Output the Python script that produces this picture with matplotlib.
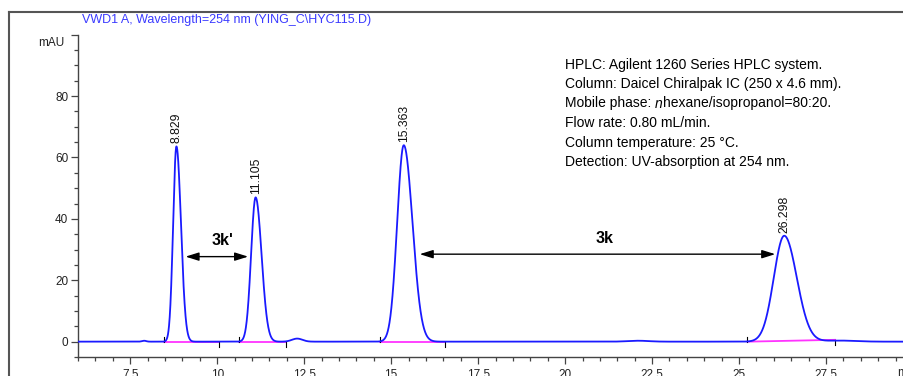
import numpy as np
import matplotlib
matplotlib.use("Agg")
import matplotlib.pyplot as plt
from matplotlib.lines import Line2D

plt.rcParams['font.family'] = ['Liberation Sans', 'DejaVu Sans']

# Main peaks: retention time (min), height (mAU), left/right widths (min)
peak_times = [8.829, 11.105, 15.363, 26.298]
peak_heights = [63.6, 47.0, 64.0, 34.5]
peak_sigma_left = [0.095, 0.13, 0.19, 0.30]
peak_sigma_right = [0.13, 0.17, 0.25, 0.36]

# Minor features of the trace
minor_times = [7.9, 12.3, 22.1, 27.9]
minor_heights = [0.3, 1.0, 0.3, 0.35]
minor_widths = [0.06, 0.15, 0.3, 0.45]

# Integration baselines: start, end, start level, end level
base_start = [8.47, 10.63, 14.67, 25.24]
base_end = [10.04, 11.99, 16.55, 27.76]
base_y0 = [0.0, 0.0, 0.0, 0.0]
base_y1 = [0.0, 0.0, 0.0, 0.6]

# Resolution arrows and their labels
arrow_labels = ["3k'", "3k"]
arrow_left = [9.09, 15.82]
arrow_right = [10.89, 26.04]
arrow_level = [27.7, 28.5]
label_x = [10.14, 21.14]
label_y = [30.5, 31.0]

title_text = "VWD1 A, Wavelength=254 nm (YING_C\\HYC115.D)"
# each line is a list of (text, italic) pieces
info_lines = [
    [("HPLC: Agilent 1260 Series HPLC system.", False)],
    [("Column: Daicel Chiralpak IC (250 x 4.6 mm).", False)],
    [("Mobile phase: ", False), ("n", True), ("hexane/isopropanol=80:20.", False)],
    [("Flow rate: 0.80 mL/min.", False)],
    [("Column temperature: 25 \u00b0C.", False)],
    [("Detection: UV-absorption at 254 nm.", False)],
]

W, H = 904, 376
fig = plt.figure(figsize=(W / 100, H / 100), dpi=100)

x0, x1 = 6.0, 29.74
ax_left, ax_bottom, ax_top = 78, 357, 34.7
ax = fig.add_axes([ax_left / W, (H - ax_bottom) / H,
                   (W - ax_left) / W, (ax_bottom - ax_top) / H])

t = np.linspace(x0, x1, 6000)
signal = np.zeros_like(t)
for tr, h, sl, sr in zip(peak_times, peak_heights, peak_sigma_left, peak_sigma_right):
    s = np.where(t < tr, sl, sr)
    signal += h * np.exp(-0.5 * ((t - tr) / s) ** 2)
for tr, h, w in zip(minor_times, minor_heights, minor_widths):
    signal += h * np.exp(-0.5 * ((t - tr) / w) ** 2)

for a, b, ya, yb in zip(base_start, base_end, base_y0, base_y1):
    ax.plot([a, b], [ya, yb], color='#ff33ff', lw=1.3, zorder=2)
    ax.plot([a, a], [ya, ya + 1.6], color='black', lw=0.8, zorder=3)
    ax.plot([b, b], [yb, yb - 1.6], color='black', lw=0.8, zorder=3)

ax.plot(t, signal, color='#1a1aff', lw=1.3, zorder=4)

for tr, h in zip(peak_times, peak_heights):
    ax.text(tr, h + 1.0, f"{tr:.3f}", rotation=90, ha='center', va='bottom',
            fontsize=8.7, color='#111111')

for a, b, y in zip(arrow_left, arrow_right, arrow_level):
    ax.annotate('', xy=(b, y), xytext=(a, y),
                arrowprops=dict(arrowstyle='<|-|>,head_length=0.8,head_width=0.25',
                                color='black', lw=1.0, shrinkA=0, shrinkB=0))
for lab, lx, ly in zip(arrow_labels, label_x, label_y):
    ax.text(lx, ly, lab, ha='center', va='bottom', fontsize=11.5, fontweight='bold')

ax.set_xlim(x0, x1)
ax.set_ylim(-5, 100)
ax.set_xticks(np.arange(7.5, 29, 2.5))
ax.set_xticklabels([f"{v:g}" for v in np.arange(7.5, 29, 2.5)])
ax.set_xticks(np.arange(6.0, 29.8, 0.5), minor=True)
ax.set_yticks([0, 20, 40, 60, 80, 100])
ax.set_yticklabels(['0', '20', '40', '60', '80', ''])
ax.set_yticks(np.arange(-5, 101, 5), minor=True)

axis_color = '#444444'
for side in ['top', 'right']:
    ax.spines[side].set_visible(False)
for side in ['left', 'bottom']:
    ax.spines[side].set_color(axis_color)
    ax.spines[side].set_linewidth(1.0)
ax.tick_params(which='major', direction='out', length=5, width=0.9,
               color=axis_color, labelsize=8.5, labelcolor='#222222')
ax.tick_params(which='minor', direction='out', length=2.6, width=0.9, color=axis_color)
ax.tick_params(axis='x', which='major', pad=3.5)
ax.tick_params(axis='y', which='major', pad=2)
ax.patch.set_alpha(0)

fig.text(897 / W, 1 - 373 / H, "min", fontsize=8.5, ha='left', va='center', color='#222222')
fig.text(38 / W, 1 - 43 / H, "mAU", fontsize=8.5, ha='left', va='center', color='#222222')
fig.text(82 / W, 1 - 20 / H, title_text, fontsize=9.0, ha='left', va='center', color='#3a3aff')

# method conditions block; the pieces of a line are laid out left to right
renderer = fig.canvas.get_renderer()
for i, pieces in enumerate(info_lines):
    y = 1 - (68.5 + i * 19.5) / H
    x_px = 565.0
    for txt, italic in pieces:
        piece = fig.text(x_px / W, y, txt, fontsize=10.0,
                         style='italic' if italic else 'normal',
                         ha='left', va='baseline', color='black')
        x_px = piece.get_window_extent(renderer).x1

# outer panel frame
fig.add_artist(Line2D([9 / W, 9 / W], [0, 1 - 12 / H], transform=fig.transFigure,
                      color='#555555', lw=1.5))
fig.add_artist(Line2D([9 / W, 1], [1 - 12 / H, 1 - 12 / H], transform=fig.transFigure,
                      color='#555555', lw=1.5))

fig.savefig('out.png', dpi=100)
